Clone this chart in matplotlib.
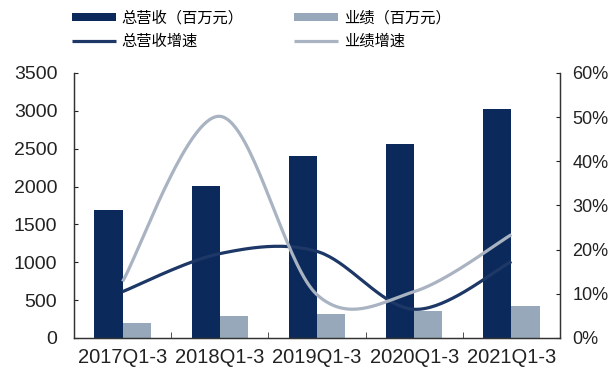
import numpy as np
import matplotlib.pyplot as plt
from matplotlib.ticker import MultipleLocator, FuncFormatter

plt.rcParams['font.family'] = ['Liberation Sans', 'Noto Sans CJK SC', 'DejaVu Sans']

periods = ['2017Q1-3', '2018Q1-3', '2019Q1-3', '2020Q1-3', '2021Q1-3']
revenue = [1690, 2010, 2405, 2560, 3025]      # 总营收（百万元）
profit = [195, 292, 314, 362, 428]            # 业绩（百万元）
revenue_growth = [10.5, 19.1, 19.6, 6.5, 17.3]  # %
profit_growth = [12.8, 50.2, 9.8, 10.5, 23.4]   # %

navy = '#0b2a5b'
steel = '#98a8bb'
line_dark = '#1d3766'
line_light = '#a9b3c1'


def smooth(xs, ys, n=40):
    # Catmull-Rom style bezier through every point, like an office "smoothed line"
    xs = np.asarray(xs, float)
    ys = np.asarray(ys, float)
    px = np.concatenate([[xs[0]], xs, [xs[-1]]])
    py = np.concatenate([[ys[0]], ys, [ys[-1]]])
    out_x, out_y = [], []
    t = np.linspace(0, 1, n)
    for i in range(1, len(px) - 2):
        p0, p1, p2, p3 = (np.array([px[j], py[j]]) for j in range(i - 1, i + 3))
        c1 = p1 + (p2 - p0) / 6
        c2 = p2 - (p3 - p1) / 6
        b = ((1 - t) ** 3)[:, None] * p1 + (3 * (1 - t) ** 2 * t)[:, None] * c1 \
            + (3 * (1 - t) * t ** 2)[:, None] * c2 + (t ** 3)[:, None] * p2
        out_x.extend(b[:, 0])
        out_y.extend(b[:, 1])
    return np.array(out_x), np.array(out_y)


fig = plt.figure(figsize=(6.1, 3.72), dpi=100)
ax = fig.add_axes([0.1213, 0.0914, 0.7967, 0.7124])
ax2 = ax.twinx()

x = np.arange(len(periods))
w = 0.29
b1 = ax.bar(x - w / 2, revenue, w, color=navy, label='总营收（百万元）', zorder=2)
b2 = ax.bar(x + w / 2, profit, w, color=steel, label='业绩（百万元）', zorder=2)

sx, sy = smooth(x, revenue_growth)
l1, = ax2.plot(sx, sy, color=line_dark, lw=2.3, label='总营收增速', solid_capstyle='butt')
sx, sy = smooth(x, profit_growth)
l2, = ax2.plot(sx, sy, color=line_light, lw=2.3, label='业绩增速', solid_capstyle='butt')

ax.set_xlim(-0.5, len(periods) - 0.5)
ax.set_ylim(0, 3500)
ax2.set_ylim(0, 60)
ax.yaxis.set_major_locator(MultipleLocator(500))
ax2.yaxis.set_major_locator(MultipleLocator(10))
ax2.yaxis.set_major_formatter(FuncFormatter(lambda v, p: f'{v:.0f}%'))

ax.set_xticks(x)
ax.set_xticklabels(periods)
ax.set_xticks(np.arange(0.5, len(periods) - 1), minor=True)
ax.tick_params(axis='x', which='major', length=0, pad=7, labelsize=14.5, colors='#222222')
ax.tick_params(axis='x', which='minor', direction='in', length=4, color='#333333')
ax.tick_params(axis='y', direction='in', length=3, pad=12, labelsize=14, colors='#222222')
ax2.tick_params(axis='y', direction='in', length=3, pad=9, labelsize=13, colors='#222222')

for a in (ax, ax2):
    a.spines['top'].set_visible(False)
    for s in ('left', 'right', 'bottom'):
        a.spines[s].set_color('#333333')
        a.spines[s].set_linewidth(0.9)

fig.legend(handles=[b1, l1, b2, l2], ncol=2, loc='upper left',
           bbox_to_anchor=(0.118, 0.975), frameon=False,
           prop={'family': ['Noto Sans CJK SC', 'DejaVu Sans'], 'size': 11},
           handlelength=2.9, handleheight=0.5, handletextpad=0.35,
           labelspacing=0.45, columnspacing=3.3, borderpad=0, borderaxespad=0)

fig.savefig('out.png', dpi=100)
